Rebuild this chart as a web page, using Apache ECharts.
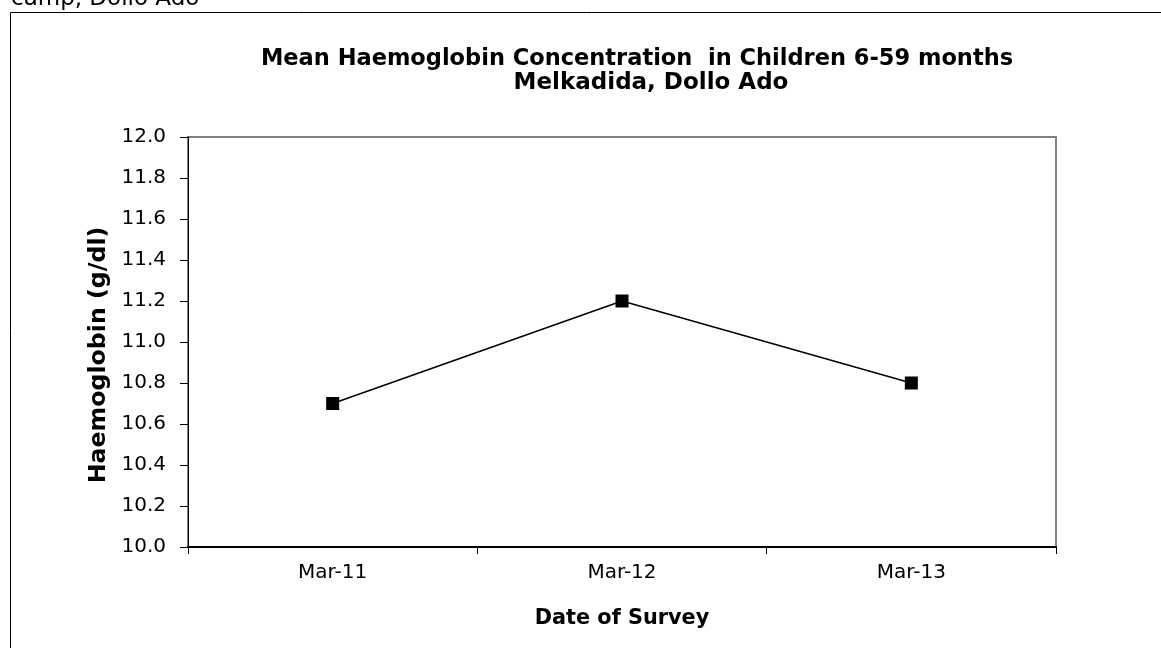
<!DOCTYPE html>
<html><head><meta charset="utf-8">
<script src="https://cdn.jsdelivr.net/npm/echarts@6/dist/echarts.min.js"></script>
<style>html,body{margin:0;padding:0;background:#fff}#c{width:1161px;height:648px}</style>
</head><body><div id="c"></div>
<script>
const categories = ['Mar-11', 'Mar-12', 'Mar-13'];
const haemoglobin = [10.7, 11.2, 10.8];
const titleLine1 = 'Mean Haemoglobin Concentration  in Children 6-59 months';
const titleLine2 = 'Melkadida, Dollo Ado';
const yAxisName = 'Haemoglobin (g/dl)';
const xAxisName = 'Date of Survey';
const topCaption = 'camp, Dollo Ado';

const chart = echarts.init(document.getElementById('c'));
const font = 'DejaVu Sans, sans-serif';
chart.setOption({
  animation: false,
  backgroundColor: '#fff',
  title: [
    { text: titleLine1, left: 637, top: 47, textAlign: 'center', padding: 0,
      textStyle: { fontFamily: font, fontSize: 22.5, fontWeight: 'bold', color: '#000', lineHeight: 24 } },
    { text: titleLine2, left: 651, top: 71, textAlign: 'center', padding: 0,
      textStyle: { fontFamily: font, fontSize: 23, fontWeight: 'bold', color: '#000', lineHeight: 24 } }
  ],
  graphic: [
    { type: 'rect', shape: { x: 10.5, y: 12.5, width: 1200, height: 700 }, style: { fill: 'none', stroke: '#000', lineWidth: 1 }, silent: true, z: 0 },
    { type: 'text', x: 11, y: -12, style: { text: topCaption, font: '23px ' + font, fill: '#000' }, z: 1 }
  ],
  grid: { left: 188, top: 137, width: 868, height: 410, show: true, borderColor: '#808080', borderWidth: 2, backgroundColor: 'transparent' },
  xAxis: {
    type: 'category', data: categories, boundaryGap: true,
    name: xAxisName, nameLocation: 'middle', nameGap: 61,
    nameTextStyle: { fontFamily: font, fontSize: 20.8, fontWeight: 'bold', color: '#000' },
    axisLine: { lineStyle: { color: '#000', width: 2 } },
    axisTick: { show: true, inside: false, length: 7, lineStyle: { color: '#000', width: 1 } },
    axisLabel: { fontFamily: font, fontSize: 20, color: '#000', margin: 16 },
    splitLine: { show: false }
  },
  yAxis: {
    type: 'value', min: 10, max: 12, interval: 0.2,
    name: yAxisName, nameLocation: 'middle', nameGap: 75, nameRotate: 90,
    nameTextStyle: { fontFamily: font, fontSize: 23.7, fontWeight: 'bold', color: '#000', padding: [0, 26, 0, 0] },
    axisLine: { show: true, lineStyle: { color: '#000', width: 1 } },
    axisTick: { show: true, inside: false, length: 8, lineStyle: { color: '#000', width: 1 } },
    axisLabel: { fontFamily: font, fontSize: 20, color: '#000', margin: 22, formatter: v => v.toFixed(1) },
    splitLine: { show: false }
  },
  series: [{
    type: 'line', data: haemoglobin,
    symbol: 'rect', symbolSize: 13,
    itemStyle: { color: '#000' },
    lineStyle: { color: '#000', width: 1.5 }
  }]
});
</script></body></html>
